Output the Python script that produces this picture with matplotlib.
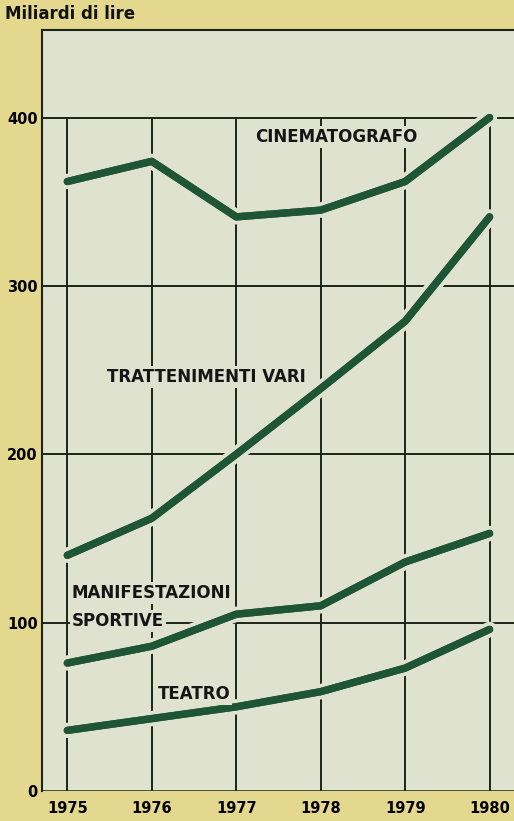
import matplotlib
matplotlib.use("Agg")
import matplotlib.pyplot as plt
import matplotlib.patheffects as pe

years = [1975, 1976, 1977, 1978, 1979, 1980]
cinematografo = [362, 374, 341, 345, 362, 400]
trattenimenti = [140, 162, 200, 239, 279, 341]
sportive = [76, 86, 105, 110, 136, 153]
teatro = [36, 43, 50, 59, 73, 96]
yticks = [0, 100, 200, 300, 400]

BG = "#e4d88e"
PLOT_BG = "#dfe2cf"
GREEN = "#1e5535"
INK = "#1c2418"

plt.rcParams['font.family'] = ['DejaVu Sans']

fig = plt.figure(figsize=(5.14, 8.21), dpi=100, facecolor=BG)
ax = fig.add_axes([42/514, 1-791/821, 1-42/514 + 0.01, (791-30)/821])
ax.set_facecolor(PLOT_BG)
ax.set_xlim(1974.70, 1980.35)
ax.set_ylim(0, 452)

# grid
ax.vlines(years, 0, 400, color=INK, lw=1.4, zorder=1)
ax.hlines([100, 200, 300, 400], 1974.70, 1980.35, color=INK, lw=1.4, zorder=1)

halo = [pe.Stroke(linewidth=11, foreground=PLOT_BG), pe.Stroke(linewidth=5.3, foreground=GREEN, capstyle='round'), pe.Normal()]
for series in [cinematografo, trattenimenti, sportive, teatro]:
    ax.plot(years, series, color=GREEN, lw=5.3, solid_capstyle='round',
            solid_joinstyle='round', zorder=3, path_effects=halo)

tkw = dict(fontsize=12, fontweight='bold', color='#151515', zorder=4,
           bbox=dict(facecolor=PLOT_BG, edgecolor='none', pad=1.5))
ax.text(1977.22, 388.5, "CINEMATOGRAFO", ha='left', va='center', **tkw)
ax.text(1975.47, 246, "TRATTENIMENTI VARI", ha='left', va='center', **tkw)
ax.text(1975.05, 117.5, "MANIFESTAZIONI", ha='left', va='center', **tkw)
ax.text(1975.05, 101, "SPORTIVE", ha='left', va='center', **tkw)
ax.text(1976.07, 57.6, "TEATRO", ha='left', va='center', **tkw)

for s in ['right', 'bottom']:
    ax.spines[s].set_visible(False)
for s in ['left', 'top']:
    ax.spines[s].set_color(INK)
    ax.spines[s].set_linewidth(1.5)
ax.axhline(0, color=INK, lw=1.8, zorder=2)

ax.set_yticks(yticks)
ax.set_yticklabels([str(v) for v in yticks], fontsize=10.5, fontweight='bold')
ax.set_xticks(years)
ax.set_xticklabels([str(y) for y in years], fontsize=10.5, fontweight='bold')
ax.tick_params(axis='y', length=0, pad=3, color=INK)
ax.tick_params(axis='x', length=0, pad=7)

fig.text(5/514, 1-14/821, "Miliardi di lire", fontsize=12, fontweight='bold',
         ha='left', va='center', color='#111111')

fig.savefig("out.png", dpi=100, facecolor=BG)
